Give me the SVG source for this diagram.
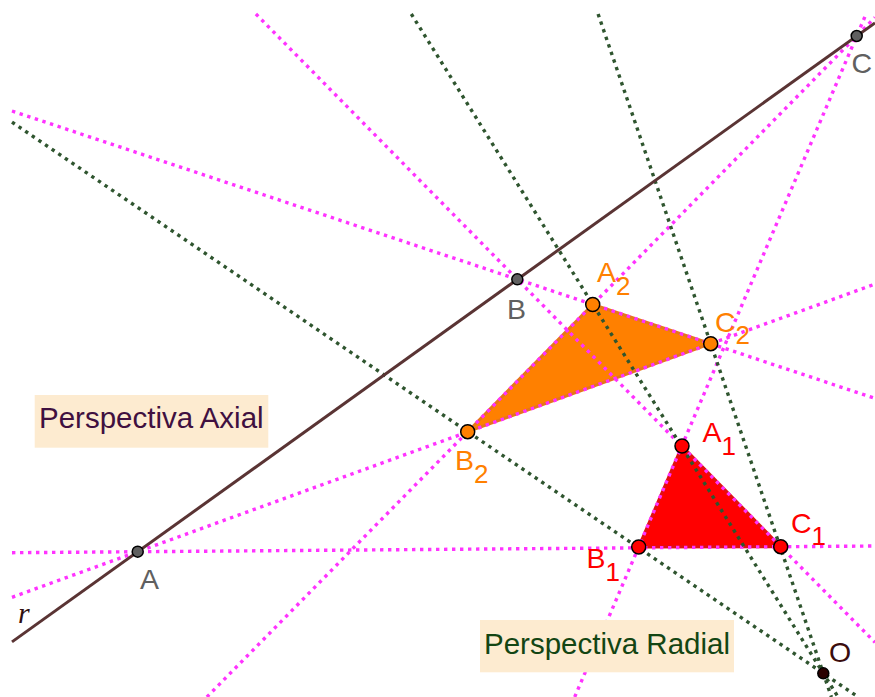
<svg xmlns="http://www.w3.org/2000/svg" width="875" height="697" viewBox="0 0 875 697">
<style>
.mag{stroke:#ff33ff;stroke-width:3.4;stroke-dasharray:3.4 4.6;fill:none}
.grn{stroke:#2f552f;stroke-width:3.4;stroke-dasharray:3.4 4.6;fill:none}
.axis{stroke:#5a3434;stroke-width:3;fill:none}
.pg{fill:#606060;stroke:#000;stroke-width:1.5}
.po{fill:#ff8000;stroke:#000;stroke-width:1.5}
.pr{fill:#ff0000;stroke:#000;stroke-width:1.5}
.lbl{font-family:"Liberation Sans",Arial,sans-serif;font-size:28.5px}
.sub{font-size:26px}
.lg{fill:#606060}
.lo{fill:#ff8000}
.lr{fill:#ff0000}
.box{fill:#fdebd0}
.cap{font-family:"Liberation Sans",Arial,sans-serif;font-size:29.5px}
</style>
<rect width="875" height="697" fill="#ffffff"/>
<g id="triangle-2">
<polygon points="592.7,304.5 710.7,343.7 467.7,431.7" fill="#ff8000" stroke="#e5761a" stroke-width="3" stroke-linejoin="round"/>
</g>
<g id="triangle-1">
<polygon points="682,446 780.7,546.7 638.7,547" fill="#ff0000" stroke="#e01010" stroke-width="3" stroke-linejoin="round"/>
</g>
<g id="connectors">
<line class="mag" x1="12" y1="552.7" x2="875" y2="546"/>
<line class="mag" x1="12" y1="597.3" x2="875" y2="284.1"/>
<line class="mag" x1="12" y1="111" x2="875" y2="398.4"/>
<line class="mag" x1="255.9" y1="14" x2="875" y2="642.4"/>
<line class="mag" x1="206.9" y1="697" x2="875" y2="17.4"/>
<line class="mag" x1="574.7" y1="697" x2="866.1" y2="14"/>
<line class="grn" x1="12" y1="122.1" x2="858.2" y2="697"/>
<line class="grn" x1="411.3" y1="14" x2="838.1" y2="697"/>
<line class="grn" x1="598.1" y1="14" x2="831.4" y2="697"/>
<line id="r" class="axis" x1="12" y1="641.9" x2="875" y2="22.9"/>
</g>
<g id="label-r">
<text x="18" y="623" font-family="Liberation Serif,serif" font-style="italic" font-size="30" fill="#301010">r</text>
</g>
<g id="A">
<circle class="pg" cx="137.7" cy="551.7" r="5.5"/>
<text class="lbl lg" x="140" y="589">A</text>
</g>
<g id="B">
<circle class="pg" cx="517.3" cy="279.3" r="5.5"/>
<text class="lbl lg" x="507" y="319">B</text>
</g>
<g id="C">
<circle class="pg" cx="856.7" cy="36" r="5.5"/>
<text class="lbl lg" x="851.5" y="73">C</text>
</g>
<g id="A2">
<circle class="po" cx="592.7" cy="304.5" r="7"/>
<text class="lbl lo" x="597" y="282">A<tspan class="sub" dy="13">2</tspan></text>
</g>
<g id="B2">
<circle class="po" cx="467.7" cy="431.7" r="7"/>
<text class="lbl lo" x="455" y="470">B<tspan class="sub" dy="13">2</tspan></text>
</g>
<g id="C2">
<circle class="po" cx="710.7" cy="343.7" r="7"/>
<text class="lbl lo" x="715" y="332">C<tspan class="sub" dy="12">2</tspan></text>
</g>
<g id="A1">
<circle class="pr" cx="682" cy="446" r="7"/>
<text class="lbl lr" x="702.5" y="442">A<tspan class="sub" dy="13">1</tspan></text>
</g>
<g id="B1">
<circle class="pr" cx="638.7" cy="547" r="7"/>
<text class="lbl lr" x="586.5" y="568">B<tspan class="sub" dy="13">1</tspan></text>
</g>
<g id="C1">
<circle class="pr" cx="780.7" cy="546.7" r="7"/>
<text class="lbl lr" x="791" y="533">C<tspan class="sub" dy="12">1</tspan></text>
</g>
<g id="O">
<circle cx="823.3" cy="673.3" r="5.5" fill="#2b0000" stroke="#000" stroke-width="1.5"/>
<text class="lbl" x="829" y="662" fill="#3a0d0d">O</text>
</g>
<g id="perspectiva-axial">
<rect class="box" x="34.7" y="395" width="233.6" height="52.7"/>
<text class="cap" x="39" y="428.3" fill="#401040">Perspectiva Axial</text>
</g>
<g id="perspectiva-radial">
<rect class="box" x="480" y="620" width="254" height="52.3"/>
<text class="cap" x="484" y="654" fill="#134513">Perspectiva Radial</text>
</g>
</svg>
